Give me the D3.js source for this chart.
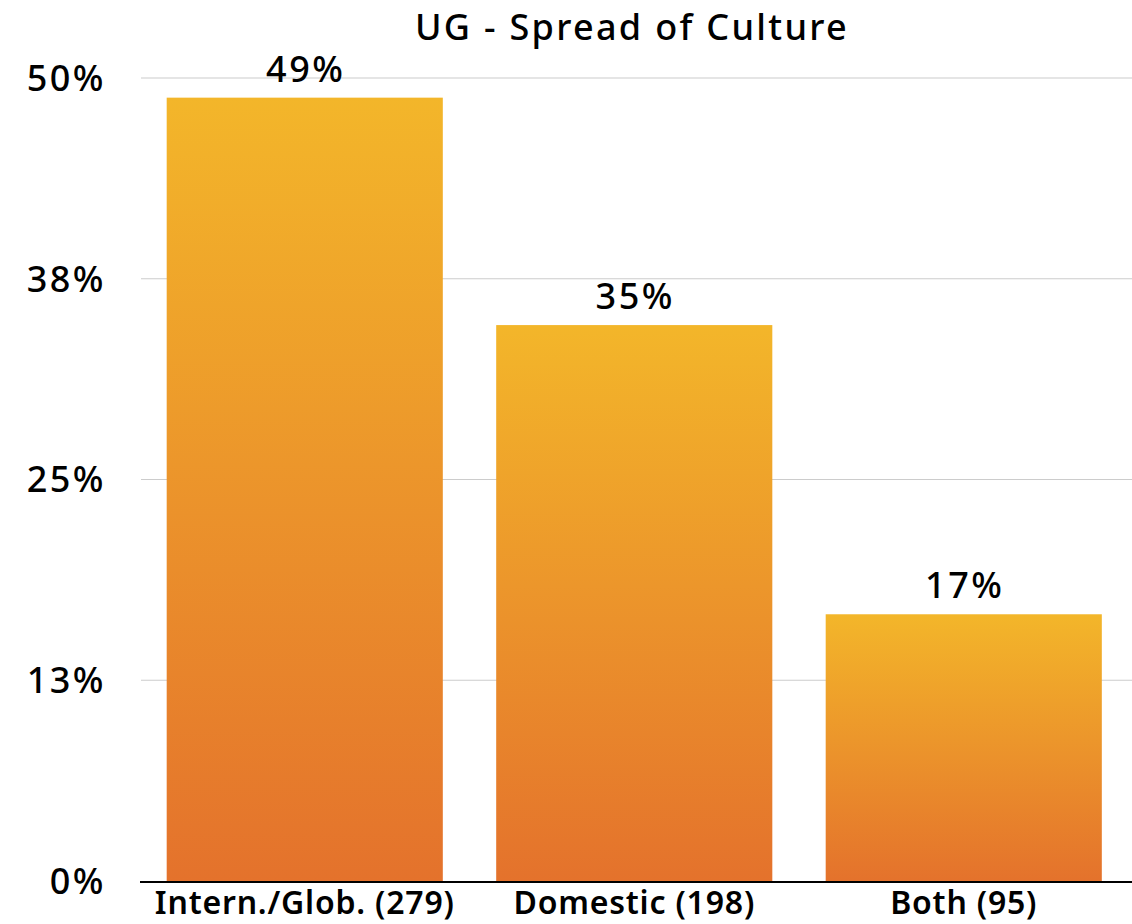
<!DOCTYPE html>
<html><head><meta charset="utf-8">
<script src="https://cdn.jsdelivr.net/npm/d3@7"></script>
<style>
html,body{margin:0;padding:0;background:#fff;}
svg text{font-family:"Noto Sans","Open Sans",sans-serif;fill:#000;}
</style></head>
<body>
<svg id="chart" width="1132" height="924"></svg>
<script>
const title = "UG - Spread of Culture";
const categories = ["Intern./Glob. (279)", "Domestic (198)", "Both (95)"];
const counts = [279, 198, 95];
const valueLabels = ["49%", "35%", "17%"];
const tickValues = [0, 0.125, 0.25, 0.375, 0.5];
const tickLabels = ["0%", "13%", "25%", "38%", "50%"];

(function () {
const total = d3.sum(counts);
const values = counts.map(c => c / total);

const svg = d3.select("#chart");
const mLeft = 140, mRight = 1128.5, mTop = 78, mBottom = 881;

const x = d3.scaleBand().domain(categories).range([mLeft, mRight]).paddingInner(0.162).paddingOuter(0.081);
const y = d3.scaleLinear().domain([0, 0.5]).range([mBottom, mTop]);

const defs = svg.append("defs");
const grad = defs.append("linearGradient").attr("id", "barGrad")
  .attr("x1", 0).attr("y1", 0).attr("x2", 0).attr("y2", 1);
grad.append("stop").attr("offset", "0%").attr("stop-color", "#F3B62A");
grad.append("stop").attr("offset", "100%").attr("stop-color", "#E4722C");

// gridlines
svg.append("g").selectAll("line").data(tickValues.slice(1)).join("line")
  .attr("x1", mLeft + 1).attr("x2", 1132)
  .attr("y1", d => y(d)).attr("y2", d => y(d))
  .attr("stroke", "#cccccc").attr("stroke-width", 1.2);

// y tick labels
svg.append("g").selectAll("text").data(tickValues).join("text")
  .attr("x", 106).attr("y", d => y(d)).attr("dy", "0.36em")
  .attr("text-anchor", "end").attr("font-size", 36).attr("font-weight", 500)
  .attr("letter-spacing", 2.5)
  .text((d, i) => tickLabels[i]);

// bars
svg.append("g").selectAll("rect").data(categories).join("rect")
  .attr("x", d => x(d)).attr("width", x.bandwidth())
  .attr("y", (d, i) => y(values[i])).attr("height", (d, i) => y(0) - y(values[i]))
  .attr("fill", "url(#barGrad)");

// value labels
svg.append("g").selectAll("text").data(categories).join("text")
  .attr("x", d => x(d) + x.bandwidth() / 2 + 1)
  .attr("y", (d, i) => y(values[i]) - 16)
  .attr("text-anchor", "middle").attr("font-size", 36).attr("font-weight", 500)
  .attr("letter-spacing", 2.5)
  .text((d, i) => valueLabels[i]);

// x axis line
svg.append("line").attr("x1", mLeft).attr("x2", 1132).attr("y1", mBottom + 1).attr("y2", mBottom + 1)
  .attr("stroke", "#000").attr("stroke-width", 2);

// category labels
svg.append("g").selectAll("text").data(categories).join("text")
  .attr("x", d => x(d) + x.bandwidth() / 2)
  .attr("y", 914)
  .attr("text-anchor", "middle").attr("font-size", 32).attr("font-weight", 600)
  .attr("letter-spacing", 0.8)
  .text(d => d);

// title
svg.append("text").attr("x", 632).attr("y", 40).attr("text-anchor", "middle")
  .attr("font-size", 36).attr("font-weight", 500).attr("letter-spacing", 2.3).text(title);
})();
</script>
</body></html>
